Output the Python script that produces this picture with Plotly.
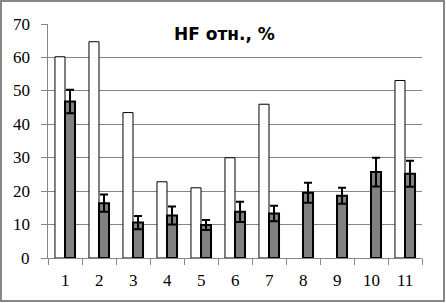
import plotly.graph_objects as go

categories = ["1", "2", "3", "4", "5", "6", "7", "8", "9", "10", "11"]
white_values = [60.2, 64.7, 43.5, 22.8, 21.0, 30.0, 46.0, None, None, None, 53.1]
gray_values = [46.8, 16.4, 10.6, 12.7, 9.9, 13.8, 13.3, 19.5, 18.6, 25.7, 25.2]
gray_errors = [3.5, 2.6, 2.0, 2.7, 1.5, 3.0, 2.3, 3.0, 2.4, 4.3, 3.9]
y_ticks = [0, 10, 20, 30, 40, 50, 60, 70]
title_text = "HF отн., %"

W, H = 446, 303
L, R, T, B = 48, 24, 24, 45
pw, ph = W - L - R, H - T - B
label_font = dict(family="Liberation Serif", size=17, color="black")

fig = go.Figure()
fig.add_trace(go.Bar(
    x=categories, y=white_values, name="white",
    marker=dict(color="white", line=dict(color="black", width=1)),
))
fig.add_trace(go.Bar(
    x=categories, y=gray_values, name="gray",
    marker=dict(color="#808080", line=dict(color="black", width=2)),
    error_y=dict(type="data", array=gray_errors, visible=True,
                 color="black", thickness=2, width=4),
))

fig.update_layout(
    width=W, height=H,
    margin=dict(l=L, r=R, t=T, b=B),
    paper_bgcolor="white", plot_bgcolor="white",
    barmode="group", bargap=0.41, bargroupgap=0,
    showlegend=False,
    font=label_font,
)
fig.update_xaxes(
    type="category", tickson="boundaries", ticks="outside", ticklen=6,
    tickcolor="#868686", showline=True, linecolor="#868686", linewidth=1,
    showgrid=False, showticklabels=False, automargin=False,
    range=[-0.5, len(categories) - 0.5],
)
fig.update_yaxes(
    range=[0, 70], tickvals=y_ticks, ticks="outside", ticklen=6,
    tickcolor="#868686", showline=True, linecolor="#868686", linewidth=1,
    showgrid=True, gridcolor="#868686", gridwidth=1, zeroline=False,
    showticklabels=False, automargin=False,
)

# tick labels as annotations placed through the axes' own scales
for i, c in enumerate(categories):
    fig.add_annotation(x=i, xref="x", y=(258 - 280) / ph, yref="paper",
                       text=c, showarrow=False, font=label_font,
                       xanchor="center", yanchor="middle")
for v in y_ticks:
    fig.add_annotation(x=(32 - L) / pw, xref="paper", y=v, yref="y",
                       text=str(v), showarrow=False, font=label_font,
                       xanchor="right", yanchor="middle")

fig.add_annotation(
    x=(224 - L) / pw, y=(H - B - 34) / ph, xref="paper", yref="paper",
    text="<b>" + title_text + "</b>", showarrow=False,
    font=dict(family="DejaVu Sans", size=17, color="black"),
    xanchor="center", yanchor="middle",
)

fig.add_shape(
    type="rect", xref="paper", yref="paper",
    x0=(1 - L) / pw, x1=(W - 2 - L) / pw,
    y0=(H - B - (H - 2)) / ph, y1=(H - B - 1) / ph,
    line=dict(color="#878787", width=2), fillcolor="rgba(0,0,0,0)",
)

fig.write_html("out.html")
